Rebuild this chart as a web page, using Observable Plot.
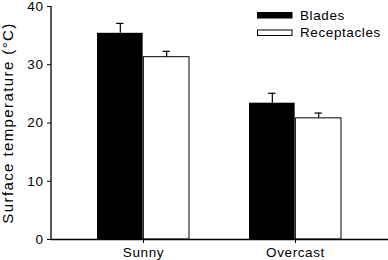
<!DOCTYPE html>
<html>
<head>
<meta charset="utf-8">
<script src="https://cdn.jsdelivr.net/npm/d3@7"></script>
<script src="https://cdn.jsdelivr.net/npm/@observablehq/plot@0.6"></script>
<style>
  body { margin: 0; background: #fff; }
  #chart { position: relative; width: 388px; height: 260px; }
  #chart svg text { letter-spacing: 0.6px; }
  #chart svg .ylab text { letter-spacing: 1.4px; }
</style>
</head>
<body>
<div id="chart"></div>
<script>
const conditions = ["Sunny", "Overcast"];
const series = ["Blades", "Receptacles"];
const bladesMean = [35.4, 23.4];
const bladesErr = [1.7, 1.7];
const receptaclesMean = [31.3, 20.8];
const receptaclesErr = [1.0, 0.9];
const yTicks = [0, 10, 20, 30, 40];
const yLabel = "Surface temperature (°C)";

const blades = conditions.map((c, i) => ({condition: c, series: series[0], value: bladesMean[i], err: bladesErr[i]}));
const receptacles = conditions.map((c, i) => ({condition: c, series: series[1], value: receptaclesMean[i], err: receptaclesErr[i]}));

const W = 388, H = 260, mL = 51, mR = 0, mT = 6, mB = 21;
const pIn = 0.393, pOut = 0.3;
const step = (W - mL - mR) / (conditions.length - pIn + 2 * pOut);
const bw = step * (1 - pIn);
const half = bw / 2, quarter = bw / 4, cap = 8;
const capInset = (bw - cap) / 2;

const font = "'Liberation Sans', Arial, Helvetica, sans-serif";

const plot = Plot.plot({
  width: W, height: H,
  marginLeft: mL, marginRight: mR, marginTop: mT, marginBottom: mB,
  style: {fontFamily: font, fontSize: "13.5px", color: "#000", background: "#fff", overflow: "visible"},
  x: {type: "band", domain: conditions, paddingInner: pIn, paddingOuter: pOut, axis: null},
  y: {domain: [0, 40], axis: null},
  marks: [
    Plot.barY(blades, {x: "condition", y: "value", fill: "#000", insetLeft: 0, insetRight: half}),
    Plot.barY(receptacles, {x: "condition", y: "value", fill: "#fff", stroke: "#000", strokeWidth: 1, insetLeft: half, insetRight: 0}),
    Plot.ruleX(blades, {x: "condition", y1: "value", y2: d => d.value + d.err, dx: -quarter, stroke: "#000", strokeWidth: 1.2}),
    Plot.tickY(blades, {x: "condition", y: d => d.value + d.err, dx: -quarter, insetLeft: capInset, insetRight: capInset, stroke: "#000", strokeWidth: 1.2}),
    Plot.ruleX(receptacles, {x: "condition", y1: "value", y2: d => d.value + d.err, dx: quarter, stroke: "#000", strokeWidth: 1.2}),
    Plot.tickY(receptacles, {x: "condition", y: d => d.value + d.err, dx: quarter, insetLeft: capInset, insetRight: capInset, stroke: "#000", strokeWidth: 1.2}),
    Plot.ruleY([0], {stroke: "#000", strokeWidth: 1.3}),
    Plot.axisY({ticks: yTicks, tickSize: 4, tickPadding: 4, label: null, fontSize: 13.5, stroke: "#000"}),
    Plot.axisX({tickSize: 4, tickPadding: 4, label: null, fontSize: 13.5, stroke: "#000"}),
    Plot.text([yLabel], {frameAnchor: "left", dx: -43, rotate: -90, textAnchor: "middle", lineAnchor: "middle", fontSize: 15, fill: "#000", className: "ylab"})
  ]
});

const svg = d3.select(plot);
const y = plot.scale("y");
svg.append("line")
  .attr("x1", mL).attr("x2", mL)
  .attr("y1", y.apply(40)).attr("y2", y.apply(0))
  .attr("stroke", "#000").attr("stroke-width", 1.3);

// legend
const leg = svg.append("g").attr("font-family", font).attr("font-size", 13.5).attr("text-anchor", "start");
const legendItems = [
  {label: series[0], fill: "#000", top: 12.5},
  {label: series[1], fill: "#fff", top: 30}
];
legendItems.forEach(it => {
  leg.append("rect").attr("x", 257.5).attr("y", it.top).attr("width", 34.5).attr("height", 5.5)
    .attr("fill", it.fill).attr("stroke", "#000").attr("stroke-width", 1);
  leg.append("text").attr("x", 300).attr("y", it.top + 7.3).attr("fill", "#000").text(it.label);
});

document.getElementById("chart").appendChild(plot);
</script>
</body>
</html>
